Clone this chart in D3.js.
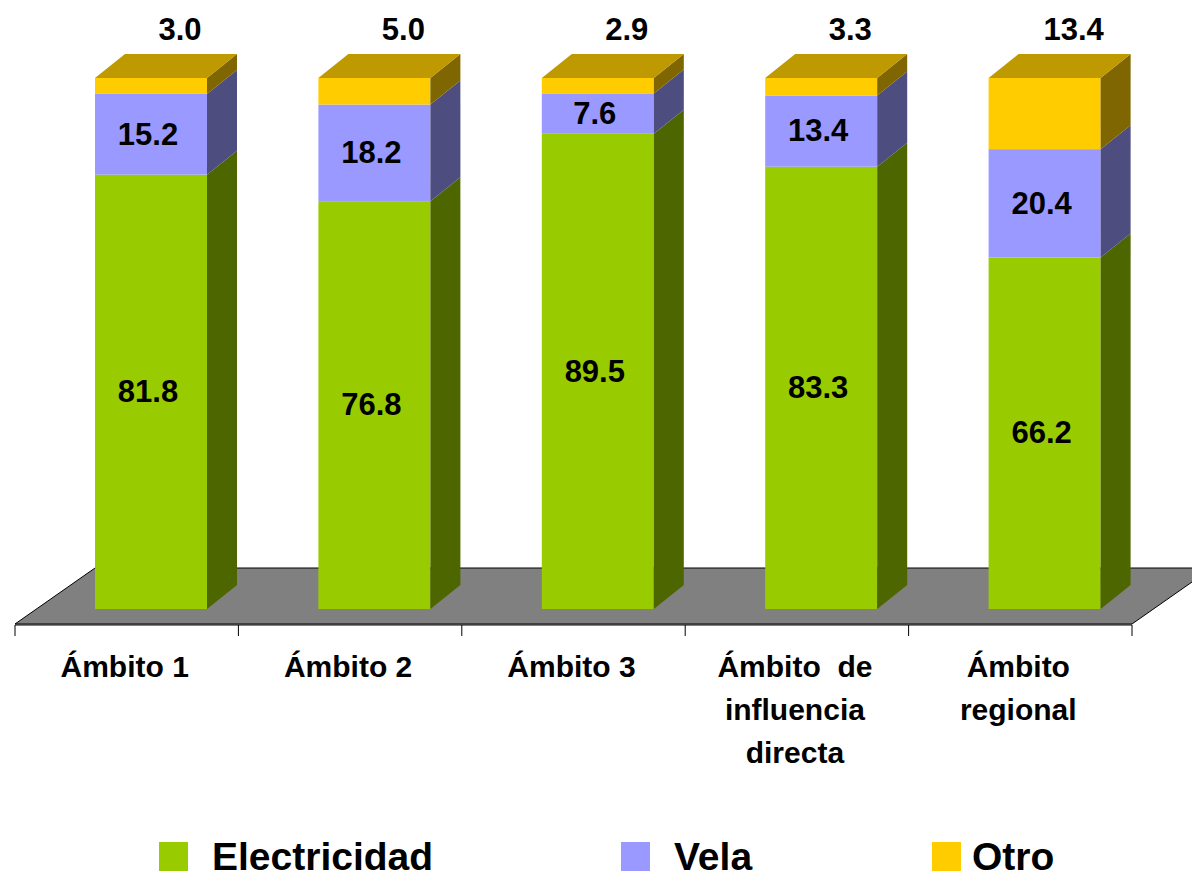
<!DOCTYPE html>
<html><head><meta charset="utf-8">
<script src="https://cdn.jsdelivr.net/npm/d3@7/dist/d3.min.js"></script>
<style>html,body{margin:0;padding:0;background:#fff;}svg{display:block;}</style>
</head><body>
<svg id="chart" width="1192" height="879"></svg>
<script>
const categories = [["Ámbito 1"], ["Ámbito 2"], ["Ámbito 3"], ["Ámbito\u00a0 de", "influencia", "directa"], ["Ámbito", "regional"]];
const seriesNames = ["Electricidad", "Vela", "Otro"];
const electricidad = [81.8, 76.8, 89.5, 83.3, 66.2];
const vela = [15.2, 18.2, 7.6, 13.4, 20.4];
const otro = [3.0, 5.0, 2.9, 3.3, 13.4];
const seriesValues = [electricidad, vela, otro];
const frontColors = ["#99CC00", "#9999FF", "#FFCC00"];
const sideColors = ["#4D6600", "#4D4D80", "#806600"];
const topColor = "#BF9900";

const svg = d3.select("#chart");
const font = "'Liberation Sans', Arial, sans-serif";

const x = d3.scaleBand().domain(d3.range(categories.length)).range([15, 1132]).padding(0);
const y = d3.scaleLinear().domain([0, 100]).range([609, 78]);
const barOffset = 80, barW = 112, dx = 30, dy = -24;

// floor
const floorFrontY = 624, floorBackY = 568, floorDx = 80;
svg.append("polygon")
  .attr("points", [[15, floorFrontY], [15 + floorDx, floorBackY], [1132 + floorDx, floorBackY], [1132, floorFrontY]].map(p => p.join(",")).join(" "))
  .attr("fill", "#808080").attr("stroke", "#000").attr("stroke-width", 1);

// axis
const axisG = svg.append("g").attr("transform", `translate(0,${floorFrontY + 1})`);
axisG.append("line").attr("x1", 15).attr("x2", 1132).attr("stroke", "#000");
const boundaries = d3.range(categories.length + 1).map(i => i < categories.length ? x(i) : x(categories.length - 1) + x.bandwidth());
axisG.selectAll("line.tick").data(boundaries).join("line").attr("class", "tick")
  .attr("x1", d => d).attr("x2", d => d).attr("y1", 0).attr("y2", 11).attr("stroke", "#000");

// bars
categories.forEach((c, i) => {
  const x0 = x(i) + barOffset;
  let cum = 0;
  const g = svg.append("g");
  seriesValues.forEach((vals, s) => {
    const v = vals[i];
    const yb = y(cum), yt = y(cum + v);
    cum += v;
    g.append("rect").attr("x", x0).attr("y", yt).attr("width", barW).attr("height", yb - yt).attr("fill", frontColors[s]);
    g.append("polygon")
      .attr("points", [[x0 + barW, yb], [x0 + barW + dx, yb + dy], [x0 + barW + dx, yt + dy], [x0 + barW, yt]].map(p => p.join(",")).join(" "))
      .attr("fill", sideColors[s]);
    if (s === seriesValues.length - 1) {
      g.append("polygon")
        .attr("points", [[x0, yt], [x0 + dx, yt + dy], [x0 + barW + dx, yt + dy], [x0 + barW, yt]].map(p => p.join(",")).join(" "))
        .attr("fill", topColor);
      g.append("text").attr("x", x0 + barW / 2 + 29).attr("y", 40)
        .attr("text-anchor", "middle").attr("font-family", font).attr("font-weight", "bold").attr("font-size", 31)
        .text(v.toFixed(1));
    } else {
      g.append("text").attr("x", x0 + barW / 2 - 3).attr("y", (yb + yt) / 2).attr("dy", "0.33em")
        .attr("text-anchor", "middle").attr("font-family", font).attr("font-weight", "bold").attr("font-size", 31)
        .text(v.toFixed(1));
    }
  });
  // category label
  const t = svg.append("text").attr("text-anchor", "middle").attr("font-family", font)
    .attr("font-weight", "bold").attr("font-size", 30);
  c.forEach((line, k) => {
    t.append("tspan").attr("x", x(i) + x.bandwidth() / 2 - 2).attr("y", 677 + k * 43).text(line);
  });
});

// legend
const legendX = [159, 621, 932];
seriesNames.forEach((n, s) => {
  svg.append("rect").attr("x", legendX[s]).attr("y", 842).attr("width", 29).attr("height", 29).attr("fill", frontColors[s]);
  svg.append("text").attr("x", legendX[s] + (s === 2 ? 40 : 53)).attr("y", 870)
    .attr("font-family", font).attr("font-weight", "bold").attr("font-size", 39).text(n);
});
</script>
</body></html>
